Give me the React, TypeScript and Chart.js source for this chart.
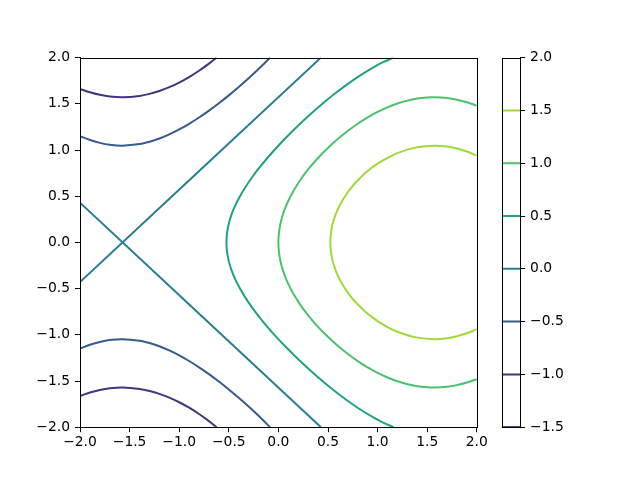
import React, { useEffect, useRef } from "react";
import { Chart, registerables } from "chart.js";

Chart.register(...registerables);

// Contour levels and their viridis colours
const levels = [-1.5, -1.0, -0.5, 0.0, 0.5, 1.0, 1.5];
const levelColors = ["#440154", "#46327e", "#365c8d", "#277f8e", "#1fa187", "#4ac16d", "#a0da39"];
const colorbarMin = -1.5;
const colorbarMax = 2.0;
const axisMin = -2;
const axisMax = 2;
const tickStep = 0.5;

// Contour lines (x, y)
const levelM1Upper: number[][] = [
  [-2.0, 1.6616], [-1.9, 1.6245], [-1.8, 1.597], [-1.7, 1.5791], [-1.5708, 1.5708],
  [-1.4, 1.5854], [-1.3, 1.6072], [-1.2, 1.6389], [-1.1, 1.6798], [-1.0, 1.73],
  [-0.9, 1.7893], [-0.8, 1.8573], [-0.7, 1.9346], [-0.6236, 2.0],
];
const levelM1Lower: number[][] = [
  [-2.0, -1.6616], [-1.9, -1.6245], [-1.8, -1.597], [-1.7, -1.5791], [-1.5708, -1.5708],
  [-1.4, -1.5854], [-1.3, -1.6072], [-1.2, -1.6389], [-1.1, -1.6798], [-1.0, -1.73],
  [-0.9, -1.7893], [-0.8, -1.8573], [-0.7, -1.9346], [-0.6236, -2.0],
];
const levelM05Upper: number[][] = [
  [-2.0, 1.1494], [-1.9, 1.1083], [-1.8, 1.0772], [-1.7, 1.0568], [-1.5708, 1.0472],
  [-1.4, 1.0639], [-1.3, 1.089], [-1.2, 1.124], [-1.1, 1.1689], [-1.0, 1.2223],
  [-0.9, 1.2835], [-0.8, 1.3517], [-0.7, 1.4261], [-0.6, 1.5062], [-0.5, 1.5914],
  [-0.4, 1.6817], [-0.3, 1.7768], [-0.2, 1.8768], [-0.1, 1.9826], [-0.084, 2.0],
];
const levelM05Lower: number[][] = [
  [-2.0, -1.1494], [-1.9, -1.1083], [-1.8, -1.0772], [-1.7, -1.0568], [-1.5708, -1.0472],
  [-1.4, -1.0639], [-1.3, -1.089], [-1.2, -1.124], [-1.1, -1.1689], [-1.0, -1.2223],
  [-0.9, -1.2835], [-0.8, -1.3517], [-0.7, -1.4261], [-0.6, -1.5062], [-0.5, -1.5914],
  [-0.4, -1.6817], [-0.3, -1.7768], [-0.2, -1.8768], [-0.1, -1.9826], [-0.084, -2.0],
];
const level0Rising: number[][] = [[-2.0, -0.4292], [0.4292, 2.0]];
const level0Falling: number[][] = [[-2.0, 0.4292], [0.4292, -2.0]];
const level05: number[][] = [
  [1.1596, 2.0], [1.0553, 1.95], [0.9662, 1.9], [0.8139, 1.8], [0.6797, 1.7], [0.5576, 1.6],
  [0.4437, 1.5], [0.3363, 1.4], [0.2347, 1.3], [0.138, 1.2], [0.0464, 1.1], [-0.0403, 1.0],
  [-0.1219, 0.9], [-0.198, 0.8], [-0.268, 0.7], [-0.3313, 0.6], [-0.3872, 0.5], [-0.4347, 0.4],
  [-0.4729, 0.3], [-0.5009, 0.2], [-0.5178, 0.1], [-0.5236, 0.0],
  [-0.5178, -0.1], [-0.5009, -0.2], [-0.4729, -0.3], [-0.4347, -0.4], [-0.3872, -0.5],
  [-0.3313, -0.6], [-0.268, -0.7], [-0.198, -0.8], [-0.1219, -0.9], [-0.0403, -1.0],
  [0.0464, -1.1], [0.138, -1.2], [0.2347, -1.3], [0.3363, -1.4], [0.4437, -1.5],
  [0.5576, -1.6], [0.6797, -1.7], [0.8139, -1.8], [0.9662, -1.9], [1.0553, -1.95], [1.1596, -2.0],
];
const level1: number[][] = [
  [2.0, 1.48], [1.9, 1.5171], [1.8, 1.5446], [1.7, 1.5625], [1.5708, 1.5708], [1.5, 1.5683],
  [1.4, 1.5562], [1.3, 1.5344], [1.2, 1.5027], [1.1, 1.4618], [1.0, 1.4116], [0.9, 1.3523],
  [0.8, 1.2843], [0.6914, 1.2], [0.578, 1.1], [0.4777, 1.0], [0.3881, 0.9], [0.3082, 0.8],
  [0.2368, 0.7], [0.1756, 0.6], [0.1229, 0.5], [0.079, 0.4], [0.0447, 0.3], [0.0199, 0.2],
  [0.005, 0.1], [0.0, 0.0],
  [0.005, -0.1], [0.0199, -0.2], [0.0447, -0.3], [0.079, -0.4], [0.1229, -0.5], [0.1756, -0.6],
  [0.2368, -0.7], [0.3082, -0.8], [0.3881, -0.9], [0.4777, -1.0], [0.578, -1.1], [0.6914, -1.2],
  [0.8, -1.2843], [0.9, -1.3523], [1.0, -1.4116], [1.1, -1.4618],
  [1.2, -1.5027], [1.3, -1.5344], [1.4, -1.5562], [1.5, -1.5683], [1.5708, -1.5708],
  [1.7, -1.5625], [1.8, -1.5446], [1.9, -1.5171], [2.0, -1.48],
];
const level15: number[][] = [
  [2.0, 0.9385], [1.9, 0.9838], [1.8, 1.0164], [1.7, 1.0376], [1.5708, 1.0472], [1.4, 1.0306],
  [1.3, 1.0045], [1.2, 0.9667], [1.1, 0.916], [1.0, 0.8517], [0.9, 0.7731], [0.8, 0.6723],
  [0.7405, 0.6], [0.6717, 0.5], [0.6172, 0.4], [0.576, 0.3], [0.5467, 0.2], [0.5294, 0.1],
  [0.5236, 0.0],
  [0.5294, -0.1], [0.5467, -0.2], [0.576, -0.3], [0.6172, -0.4], [0.6717, -0.5], [0.7405, -0.6],
  [0.8, -0.6723], [0.9, -0.7731], [1.0, -0.8517], [1.1, -0.916], [1.2, -0.9667], [1.3, -1.0045],
  [1.4, -1.0306], [1.5708, -1.0472], [1.7, -1.0376], [1.8, -1.0164], [1.9, -0.9838], [2.0, -0.9385],
];

const contourLines: { level: number; points: number[][] }[] = [
  { level: -1.0, points: levelM1Upper },
  { level: -1.0, points: levelM1Lower },
  { level: -0.5, points: levelM05Upper },
  { level: -0.5, points: levelM05Lower },
  { level: 0.0, points: level0Rising },
  { level: 0.0, points: level0Falling },
  { level: 0.5, points: level05 },
  { level: 1.0, points: level1 },
  { level: 1.5, points: level15 },
];

const FONT = { family: "'DejaVu Sans', sans-serif", size: 13.89 };
const fmt = (v: number | string) => {
  const n = Number(v);
  const s = Math.abs(n).toFixed(1);
  return n < 0 ? "\u2212" + s : s;
};

const colorFor = (lv: number) => levelColors[levels.indexOf(lv)];

const boxPlugin = {
  id: "box",
  afterDraw(chart: any) {
    const { ctx, chartArea } = chart;
    const l = Math.round(chartArea.left) + 0.5;
    const r = Math.round(chartArea.right) + 0.5;
    const t = Math.round(chartArea.top) + 0.5;
    const b = Math.round(chartArea.bottom) + 0.5;
    ctx.save();
    ctx.strokeStyle = "#000";
    ctx.lineWidth = 1;
    ctx.strokeRect(l, t, r - l, b - t);
    ctx.restore();
  },
};

// layout of the figure (pixels)
const AX_LEFT = 80;
const AX_RIGHT = 476.8;
const AX_TOP = 57.6;
const AX_BOTTOM = 427.2;
const CB_LEFT = 501.6;
const CB_RIGHT = 520.1;

export default function App() {
  const mainRef = useRef<HTMLCanvasElement>(null);
  const cbRef = useRef<HTMLCanvasElement>(null);

  useEffect(() => {
    Chart.defaults.color = "#000";
    const tickGrid = {
      display: true,
      drawOnChartArea: false,
      drawTicks: true,
      tickLength: 5,
      tickColor: "#000",
      tickWidth: 1,
    };
    const main = new Chart(mainRef.current!, {
      type: "scatter",
      data: {
        datasets: contourLines.map((c) => ({
          data: c.points.map(([x, y]) => ({ x, y })),
          showLine: true,
          borderColor: colorFor(c.level),
          backgroundColor: colorFor(c.level),
          borderWidth: 2,
          pointRadius: 0,
          tension: 0.3,
          fill: false,
        })),
      },
      options: {
        animation: false,
        responsive: false,
        events: [],
        layout: { padding: { left: 0, top: AX_TOP, right: 640 - AX_RIGHT, bottom: 0 } },
        plugins: { legend: { display: false }, tooltip: { enabled: false } },
        scales: {
          x: {
            type: "linear",
            min: axisMin,
            max: axisMax,
            ticks: { stepSize: tickStep, callback: fmt, font: FONT, color: "#000", padding: 2, maxRotation: 0 },
            grid: tickGrid,
            border: { display: true, color: "#000", width: 1 },
            afterFit: (s: any) => {
              s.height = 480 - AX_BOTTOM;
            },
          },
          y: {
            type: "linear",
            min: axisMin,
            max: axisMax,
            ticks: { stepSize: tickStep, callback: fmt, font: FONT, color: "#000", padding: 5 },
            grid: tickGrid,
            border: { display: true, color: "#000", width: 1 },
            afterFit: (s: any) => {
              s.width = AX_LEFT;
            },
          },
        },
      },
      plugins: [boxPlugin],
    } as any);

    const cb = new Chart(cbRef.current!, {
      type: "scatter",
      data: {
        datasets: levels.map((lv) => ({
          data: [
            { x: 0, y: lv },
            { x: 1, y: lv },
          ],
          showLine: true,
          borderColor: colorFor(lv),
          borderWidth: 2,
          pointRadius: 0,
          fill: false,
        })),
      },
      options: {
        animation: false,
        responsive: false,
        events: [],
        layout: { padding: { left: CB_LEFT, top: AX_TOP, right: 0, bottom: 480 - AX_BOTTOM } },
        plugins: { legend: { display: false }, tooltip: { enabled: false } },
        scales: {
          x: { type: "linear", min: 0, max: 1, display: false },
          y: {
            type: "linear",
            position: "right",
            min: colorbarMin,
            max: colorbarMax,
            ticks: { stepSize: tickStep, callback: fmt, font: FONT, color: "#000", padding: 5 },
            grid: tickGrid,
            border: { display: true, color: "#000", width: 1 },
            afterFit: (s: any) => {
              s.width = 640 - CB_RIGHT;
            },
          },
        },
      },
      plugins: [boxPlugin],
    } as any);

    return () => {
      main.destroy();
      cb.destroy();
    };
  }, []);

  return (
    <div style={{ position: "absolute", left: 0, top: 0, width: 640, height: 480, background: "#fff" }}>
      <canvas ref={mainRef} width={640} height={480} style={{ position: "absolute", left: 0, top: 0 }} />
      <canvas
        ref={cbRef}
        width={640}
        height={480}
        style={{ position: "absolute", left: 0, top: 0, pointerEvents: "none" }}
      />
    </div>
  );
}
